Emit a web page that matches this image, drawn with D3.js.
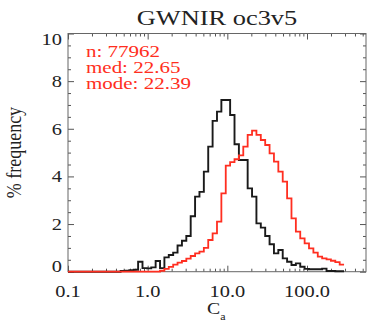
<!DOCTYPE html>
<html>
<head>
<meta charset="utf-8">
<script src="https://cdn.jsdelivr.net/npm/d3@7"></script>
<style>
  body { margin: 0; background: #fff; }
  svg { display: block; }
</style>
</head>
<body>
<svg id="chart" width="368" height="324" font-family="'Liberation Serif', 'DejaVu Serif', serif"></svg>
<script>
const title = "GWNIR oc3v5";
const stats = ["n: 77962", "med: 22.65", "mode: 22.39"];
const xTickValues = [0.1, 1, 10, 100];
const xTickLabels = ["0.1", "1.0", "10.0", "100.0"];
const yTickValues = [0, 2, 4, 6, 8, 10];
const yTickLabels = ["0", "2", "4", "6", "8", "10"];

// histogram bins are equal steps in log10(Ca)
const logStart = -1.0;
const binWidth = 0.055;

// % frequency per bin, black = reference, red = oc3v5
const blackPct = [
  0, 0, 0, 0, 0, 0, 0, 0, 0, 0, 0, 0,
  0.03, 0.04, 0.06, 0.08, 0.42, 0.15, 0.14, 0.18, 0.45, 0.15,
  0.6, 0.7, 0.8, 1.1, 1.3, 1.5, 2.33, 3.15, 3.35, 4.2,
  5.25, 6.33, 6.72, 7.21, 7.21, 6.58, 5.35, 4.69, 4.69, 3.5,
  3.15, 2.03, 1.85, 1.5, 1.15, 0.77, 0.91, 0.56, 0.42, 0.28,
  0.35, 0.21, 0.12, 0.1, 0.1, 0.1, 0.13, 0.03, 0.03, 0.02, 0.02
];
const redPct = [
  0, 0, 0, 0, 0, 0, 0, 0, 0, 0, 0, 0, 0, 0, 0, 0, 0, 0, 0, 0, 0,
  0.04, 0.12, 0.2, 0.3, 0.38, 0.45, 0.55, 0.66, 0.77, 0.84,
  1.0, 1.33, 1.61, 2.1, 3.29, 4.45, 4.6, 4.72, 4.88, 5.25,
  5.74, 5.92, 5.74, 5.53, 5.32, 4.97, 4.62, 4.2, 3.78, 3.08,
  2.24, 1.68, 1.4, 1.19, 0.98, 0.8, 0.63, 0.56, 0.52, 0.46, 0.4, 0.3
];

const red = "#ff2e20";
const ink = "#222";
const sx = 1.2; // the glyphs in the reference are stretched sideways

const svg = d3.select("#chart");
const mLeft = 68, mRight = 366, mTop = 33.5, mBottom = 271.7;

const x = d3.scaleLog().domain([0.1, 550]).range([mLeft, mRight]);
const y = d3.scaleLinear().domain([0, 10]).range([mBottom, mTop]);

// ticks (inward on all four sides)
const xMinor = x.ticks().filter((d) => !xTickValues.includes(d));
const yMinor = y.ticks(20).filter((d) => !yTickValues.includes(d));

function tickAxis(axisFn, scale, values, size, transform) {
  const g = svg.append("g")
    .attr("transform", transform)
    .call(axisFn(scale).tickValues(values).tickSize(-size).tickFormat(""));
  g.select(".domain").remove();
  g.selectAll("line").attr("stroke", "#555");
}
tickAxis(d3.axisBottom, x, xMinor, 3, `translate(0,${mBottom})`);
tickAxis(d3.axisBottom, x, xTickValues, 6, `translate(0,${mBottom})`);
tickAxis(d3.axisTop, x, xMinor, 3, `translate(0,${mTop})`);
tickAxis(d3.axisTop, x, xTickValues, 6, `translate(0,${mTop})`);
tickAxis(d3.axisLeft, y, yMinor, 3, `translate(${mLeft},0)`);
tickAxis(d3.axisLeft, y, yTickValues, 6, `translate(${mLeft},0)`);
tickAxis(d3.axisRight, y, yMinor, 3, `translate(${mRight},0)`);
tickAxis(d3.axisRight, y, yTickValues, 6, `translate(${mRight},0)`);

svg.append("rect")
  .attr("x", mLeft).attr("y", mTop)
  .attr("width", mRight - mLeft).attr("height", mBottom - mTop)
  .attr("fill", "none").attr("stroke", "#666").attr("stroke-width", 1);

// histogram step lines
function steps(values) {
  const pts = values.map((v, i) => [Math.pow(10, logStart + i * binWidth), v]);
  pts.push([Math.pow(10, logStart + values.length * binWidth), values[values.length - 1]]);
  return pts;
}
const line = d3.line()
  .x((d) => x(d[0]))
  .y((d) => y(d[1]))
  .curve(d3.curveStepAfter);

svg.append("path")
  .attr("d", line(steps(blackPct)))
  .attr("fill", "none").attr("stroke", "#1a1a1a").attr("stroke-width", 1.9);
svg.append("path")
  .attr("d", line(steps(redPct)))
  .attr("fill", "none").attr("stroke", red).attr("stroke-width", 1.8);

// tick labels
svg.append("g").selectAll("text")
  .data(xTickValues)
  .join("text")
  .attr("transform", (d) => `translate(${x(d)},297) scale(${sx},1)`)
  .attr("text-anchor", "middle")
  .attr("font-size", 17)
  .attr("fill", ink)
  .text((d, i) => xTickLabels[i]);

svg.append("g").selectAll("text")
  .data(yTickValues)
  .join("text")
  .attr("transform", (d) => {
    const c = Math.max(mTop + 6, Math.min(mBottom - 6, y(d)));
    return `translate(62,${c + 5.8}) scale(${sx},1)`;
  })
  .attr("text-anchor", "end")
  .attr("font-size", 17)
  .attr("fill", ink)
  .text((d, i) => yTickLabels[i]);

// titles
svg.append("text")
  .attr("transform", `translate(${(mLeft + mRight) / 2},25) scale(${sx},1)`)
  .attr("text-anchor", "middle")
  .attr("font-size", 22)
  .attr("fill", ink)
  .text(title);

const xt = svg.append("text")
  .attr("transform", `translate(207,314) scale(${sx},1)`)
  .attr("font-size", 16.5)
  .attr("fill", ink);
xt.append("tspan").text("C");
xt.append("tspan").attr("font-size", 10).attr("dy", 6).text("a");

svg.append("text")
  .attr("transform", `translate(21,${(mTop + mBottom) / 2}) scale(${sx},1) rotate(-90)`)
  .attr("text-anchor", "middle")
  .attr("font-size", 18)
  .attr("fill", ink)
  .text("% frequency");

// stats block
svg.append("g").selectAll("text")
  .data(stats)
  .join("text")
  .attr("transform", (d, i) => `translate(86,${56.7 + i * 15.9}) scale(${sx},1)`)
  .attr("font-size", 17.5)
  .attr("fill", red)
  .text((d) => d);
</script>
</body>
</html>
